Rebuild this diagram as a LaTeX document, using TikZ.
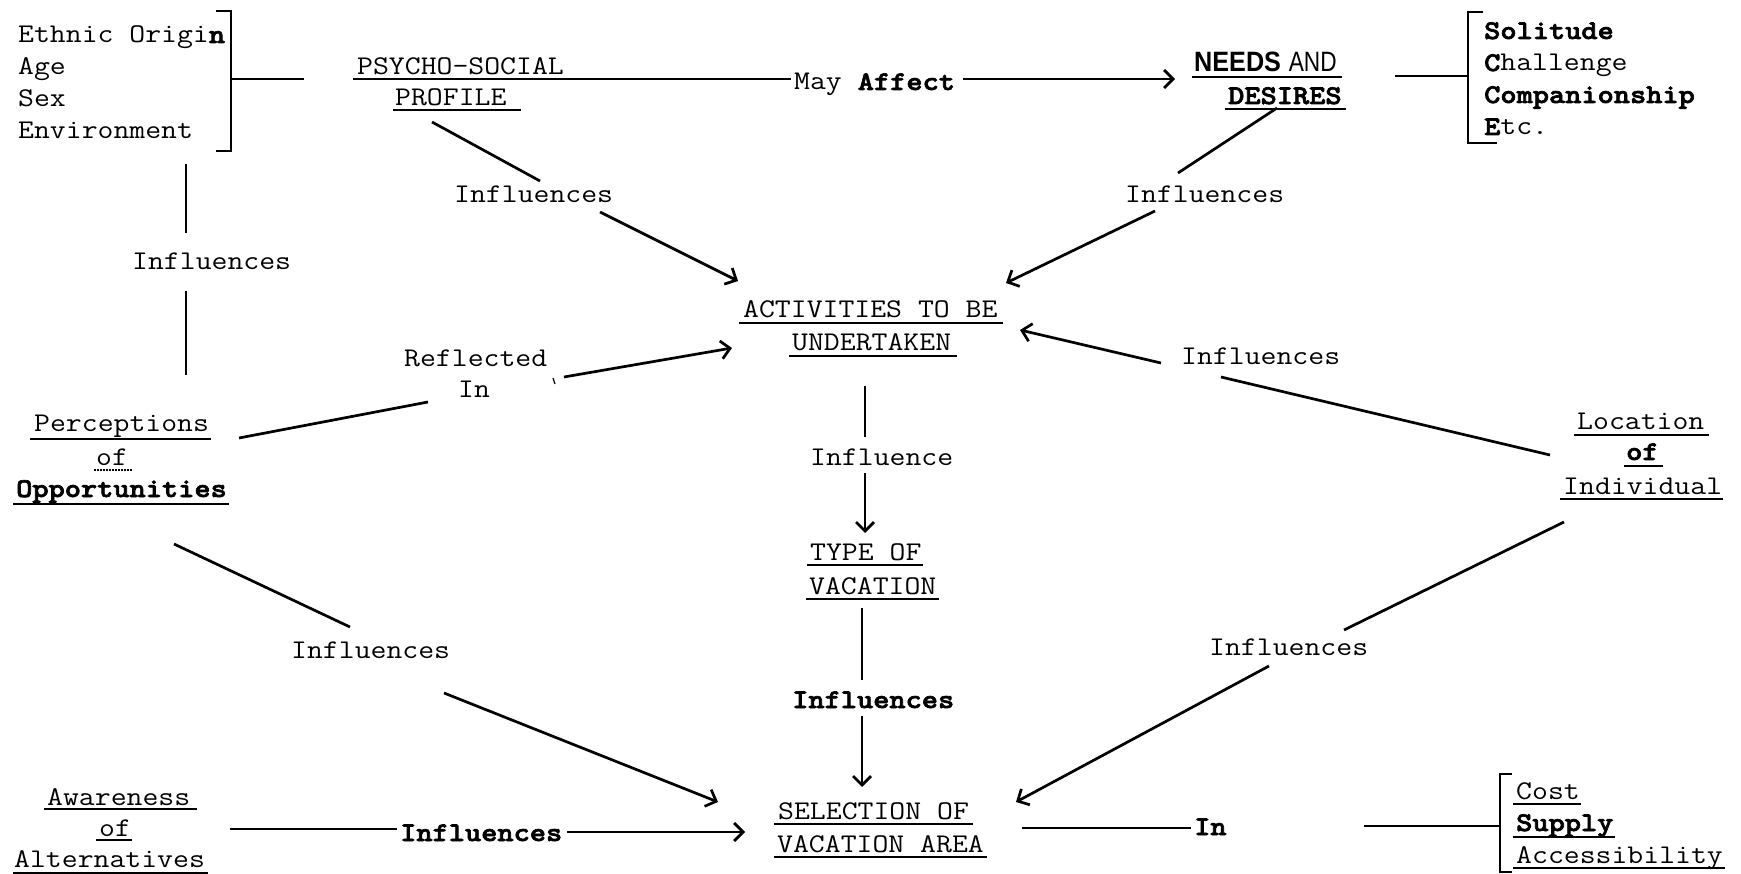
\documentclass[tikz,border=0pt]{standalone}
\usepackage{graphicx}
\usepackage{fontspec}
\setmonofont[FakeStretch=1.143]{Latin Modern Mono}
\newfontfamily\lmlight[FakeStretch=1.143,BoldFeatures={FakeBold=2.5}]{Latin Modern Mono Light}
\newcommand\bd[1]{{\lmlight\bfseries #1}}
\newfontfamily\sfx{Liberation Sans}
\usetikzlibrary{arrows.meta}
\newcommand\ulin[5][]{\draw[ul,#1] ([xshift=-#3pt,yshift=-#5pt]#2.base west) -- ([xshift=#4pt,yshift=-#5pt]#2.base east);}
\begin{document}
\begin{tikzpicture}[x=1pt,y=-1pt,line width=2.4pt,
  every node/.style={inner sep=0pt,anchor=base west,font=\ttfamily\fontsize{27}{32}\selectfont},
  ul/.style={line width=2.4pt},
  ln/.style={line width=2.7pt},
  arr/.style={line width=2.7pt,-{Straight Barb[length=9pt,width=18pt]}},
  brk/.style={line width=2.7pt}]
\path[use as bounding box] (0,0) rectangle (1741,874);

% ---- texts ----
\node (eo) at (17,43) {Ethnic Origi\bd{n}};
\node (age) at (17,75) {Age};
\node (sex) at (17,107) {Sex};
\node (env) at (17,139) {Environment};
\node (psy) at (356,75) {PSYCHO-SOCIAL};
\node (prof) at (394,106) {PROFILE};
\node (may) at (793,90) {May \bd{Affect}};
\node (needs) at (1193,72) {\sfx\fontsize{28}{32}\selectfont\scalebox{0.9}[1]{\bfseries NEEDS} \scalebox{0.81}[1]{AND}};
\node (des) at (1227,104) {\bd{DESIRES}};
\node (sol) at (1483,39) {\bd{Solitude}};
\node (cha) at (1483,71) {\bd{C}hallenge};
\node (comp) at (1483,103) {\bd{Companionship}};
\node (etc) at (1483,135) {\bd{E}tc.};
\node (inf1) at (453,203) {Influences};
\node (inf2) at (1124,203) {Influences};
\node (act) at (742,318) {ACTIVITIES TO BE};
\node (und) at (791,351) {UNDERTAKEN};
\node (inf3) at (131,270) {Influences};
\node (refl) at (403,367) {Reflected};
\node (inn) at (457,398) {In};
\node (inf4) at (1180,365) {Influences};
\node (per) at (33,432) {Perceptions};
\node (of1) at (95,465) {of};
\node (opp) at (15,497) {\bd{Opportunities}};
\node (loc) at (1576,430) {Location};
\node (of2) at (1625,460) {\bd{of}};
\node (ind) at (1562,494) {Individual};
\node (infl) at (809,465) {Influence};
\node (typ) at (809,560) {TYPE OF};
\node (vac) at (808,594) {VACATION};
\node (inf5) at (290,658) {Influences};
\node (inf6) at (1208,655) {Influences};
\node (inf7) at (791,708) {\bd{Influences}};
\node (sel) at (777,819) {SELECTION OF};
\node (vaa) at (776,852) {VACATION AREA};
\node (awa) at (46,805) {Awareness};
\node (of3) at (98,836) {of};
\node (alt) at (13,867) {Alternatives};
\node (inf8) at (399,841) {\bd{Influences}};
\node (inb) at (1193,835) {\bd{In}};
\node (cost) at (1515,799) {Cost};
\node (sup) at (1515,831) {\bd{Supply}};
\node (acc) at (1515,863) {Accessibility};

% ---- underlines ----
\ulin{prof}{1}{13}{4}
\ulin{needs}{1}{4}{5}
\ulin{des}{2}{3}{5}
\ulin{act}{3}{4}{5}
\ulin{und}{2}{5}{5}
\ulin{per}{3}{1}{7}
\ulin[line width=1.2pt,dash pattern=on 2pt off 1pt]{of1}{1}{3}{5}
\ulin{opp}{2}{1}{7}
\ulin{loc}{2}{3}{5}
\ulin{of2}{1}{3}{6}
\ulin{ind}{2}{0}{5}
\ulin{typ}{2}{0}{5}
\ulin{vac}{2}{1}{5}
\ulin{sel}{3}{3}{5}
\ulin{vaa}{2}{2}{5}
\ulin{awa}{2}{6}{4}
\ulin[line width=1.4pt]{of3}{2}{0}{4}
\ulin{alt}{0}{2}{6}
\ulin{cost}{2}{0}{5}
\ulin{sup}{2}{0}{6}
\ulin{acc}{2}{1}{5}

% ---- connector end points ----
\coordinate (b1a) at (216,11); \coordinate (b1b) at (231,11);
\coordinate (b1c) at (231,151); \coordinate (b1d) at (216,151);
\coordinate (b1s) at (231,79); \coordinate (b1e) at (304,79);
\coordinate (psyl) at (353,79); \coordinate (psyr) at (791,79);
\coordinate (affa) at (963,79); \coordinate (affb) at (1175,79);
\coordinate (r1a) at (1395,76); \coordinate (r1b) at (1468,76);
\coordinate (b2a) at (1483,12); \coordinate (b2b) at (1468,12);
\coordinate (b2c) at (1468,143); \coordinate (b2d) at (1497,143);
\coordinate (i1a) at (432,122); \coordinate (i1b) at (540,181);
\coordinate (i1c) at (600,212); \coordinate (i1d) at (738,281);
\coordinate (i2a) at (1277,108); \coordinate (i2b) at (1178,173);
\coordinate (i2c) at (1155,211); \coordinate (i2d) at (1006,283);
\coordinate (v1a) at (186,164); \coordinate (v1b) at (186,233);
\coordinate (v1c) at (186,291); \coordinate (v1d) at (186,375);
\coordinate (rfa) at (239,438); \coordinate (rfb) at (428,402);
\coordinate (rfc) at (564,377); \coordinate (rfd) at (732,348);
\coordinate (tka) at (553,378); \coordinate (tkb) at (555,384);
\coordinate (i4a) at (1161,363); \coordinate (i4b) at (1020,330);
\coordinate (i4c) at (1221,377); \coordinate (i4d) at (1550,455);
\coordinate (ina) at (865,386); \coordinate (inb2) at (865,437);
\coordinate (inc) at (865,473); \coordinate (ind2) at (865,533);
\coordinate (i7a) at (862,608); \coordinate (i7b) at (862,680);
\coordinate (i7c) at (862,716); \coordinate (i7d) at (862,787);
\coordinate (i5a) at (174,544); \coordinate (i5b) at (350,627);
\coordinate (i5c) at (444,693); \coordinate (i5d) at (718,802);
\coordinate (i6a) at (1564,522); \coordinate (i6b) at (1344,630);
\coordinate (i6c) at (1269,666); \coordinate (i6d) at (1016,802);
\coordinate (i8a) at (230,829); \coordinate (i8b) at (397,829);
\coordinate (i8c) at (567,832); \coordinate (i8d) at (745,832);
\coordinate (ia) at (1022,828); \coordinate (ib) at (1191,828);
\coordinate (r3a) at (1364,826); \coordinate (r3b) at (1500,826);
\coordinate (b3a) at (1512,774); \coordinate (b3b) at (1500,774);
\coordinate (b3c) at (1500,872); \coordinate (b3d) at (1512,872);

% ---- brackets ----
\draw[brk] (b1a) -- (b1b) -- (b1c) -- (b1d);
\draw[ln] (b1s) -- (b1e);
\draw[brk] (b2a) -- (b2b) -- (b2c) -- (b2d);
\draw[ln] (r1a) -- (r1b);
\draw[brk] (b3a) -- (b3b) -- (b3c) -- (b3d);
\draw[ln] (r3a) -- (r3b);

% ---- connectors ----
\draw[ln] (psyl) -- (psyr);
\draw[arr] (affa) -- (affb);
\draw[ln] (i1a) -- (i1b);
\draw[arr] (i1c) -- (i1d);
\draw[ln] (i2a) -- (i2b);
\draw[arr] (i2c) -- (i2d);
\draw[ln] (v1a) -- (v1b);
\draw[ln] (v1c) -- (v1d);
\draw[ln] (rfa) -- (rfb);
\draw[arr] (rfc) -- (rfd);
\draw[line width=1.2pt] (tka) -- (tkb);
\draw[arr] (i4a) -- (i4b);
\draw[ln] (i4c) -- (i4d);
\draw[ln] (ina) -- (inb2);
\draw[arr] (inc) -- (ind2);
\draw[ln] (i7a) -- (i7b);
\draw[arr] (i7c) -- (i7d);
\draw[ln] (i5a) -- (i5b);
\draw[arr] (i5c) -- (i5d);
\draw[ln] (i6a) -- (i6b);
\draw[arr] (i6c) -- (i6d);
\draw[ln] (i8a) -- (i8b);
\draw[arr] (i8c) -- (i8d);
\draw[ln] (ia) -- (ib);
\end{tikzpicture}
\end{document}
